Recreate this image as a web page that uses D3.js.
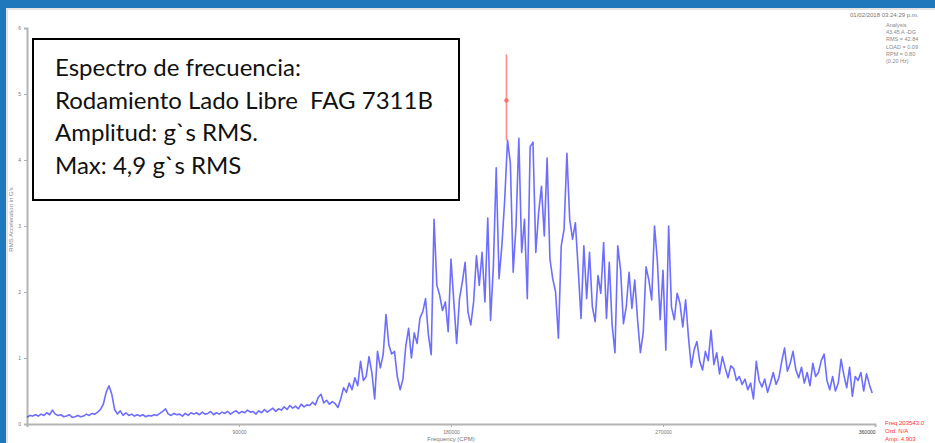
<!DOCTYPE html>
<html>
<head>
<meta charset="utf-8">
<script src="https://cdn.jsdelivr.net/npm/d3@7"></script>
<style>
    body { margin: 0; background: #ffffff; }
    svg { display: block; }
</style>
</head>
<body>
<script>
// spectrum amplitudes (g RMS), one value per 1200 CPM bin
var amplitudes = [
    0.10, 0.13, 0.12, 0.14, 0.12, 0.15, 0.13, 0.17, 0.14, 0.21,
    0.15, 0.13, 0.14, 0.11, 0.12, 0.14, 0.10, 0.11, 0.13, 0.11,
    0.12, 0.15, 0.13, 0.16, 0.15, 0.18, 0.22, 0.30, 0.48, 0.58,
    0.45, 0.22, 0.15, 0.20, 0.13, 0.17, 0.13, 0.15, 0.12, 0.14,
    0.12, 0.14, 0.11, 0.13, 0.12, 0.14, 0.13, 0.16, 0.19, 0.23,
    0.15, 0.13, 0.16, 0.14, 0.15, 0.12, 0.16, 0.13, 0.17, 0.15,
    0.17, 0.14, 0.18, 0.15, 0.16, 0.19, 0.14, 0.17, 0.15, 0.18,
    0.16, 0.19, 0.15, 0.18, 0.20, 0.16, 0.19, 0.17, 0.21, 0.18,
    0.19, 0.15, 0.20, 0.17, 0.22, 0.18, 0.21, 0.24, 0.19, 0.23,
    0.21, 0.26, 0.22, 0.28, 0.24, 0.27, 0.23, 0.30, 0.26, 0.29,
    0.28, 0.33, 0.29, 0.40, 0.45, 0.32, 0.36, 0.30, 0.34, 0.31,
    0.25, 0.38, 0.55, 0.48, 0.62, 0.52, 0.70, 0.58, 0.95, 0.66,
    0.72, 1.02, 0.78, 0.38, 1.10, 0.85, 1.05, 1.66, 1.20, 1.06,
    1.10, 0.72, 0.52, 0.68, 1.18, 1.45, 1.00, 1.38, 1.22, 1.60,
    1.70, 1.90, 1.35, 1.05, 3.10, 2.10, 1.95, 1.72, 1.85, 1.40,
    2.50, 1.85, 1.22, 1.90, 2.15, 2.45, 1.70, 1.50, 1.85, 2.55,
    2.10, 2.60, 1.85, 3.12, 1.57, 2.40, 3.88, 2.20, 2.70, 3.40,
    4.30, 3.95, 2.30, 3.00, 4.33, 2.60, 3.10, 1.90, 4.20, 4.27,
    2.60, 3.20, 3.60, 2.85, 4.03, 2.50, 2.20, 2.00, 1.30, 2.70,
    2.95, 4.10, 3.10, 2.80, 3.05, 2.35, 1.60, 2.70, 1.90, 2.60,
    1.78, 1.55, 2.25, 1.98, 2.75, 1.60, 2.45, 1.50, 1.08, 2.70,
    2.33, 1.52, 1.78, 2.30, 1.75, 2.18, 1.58, 1.08, 1.38, 2.38,
    2.18, 1.88, 3.00, 2.48, 1.58, 2.33, 1.12, 3.00, 1.77, 1.58,
    1.98, 1.83, 1.47, 1.88, 1.32, 0.86, 1.12, 1.25, 0.95, 0.82,
    1.10, 0.96, 1.42, 0.90, 1.08, 0.76, 1.02, 0.85, 0.70, 0.88,
    0.84, 0.66, 0.72, 0.60, 0.68, 0.52, 0.62, 0.38, 0.95, 0.66,
    0.56, 0.68, 0.48, 0.62, 0.78, 0.60, 0.70, 0.95, 1.15, 0.80,
    0.92, 1.10, 0.82, 0.70, 0.86, 0.62, 0.78, 0.58, 0.92, 0.72,
    0.78, 0.96, 1.06, 0.66, 0.52, 0.72, 0.50, 0.62, 0.98, 0.74,
    0.55, 0.86, 0.42, 0.72, 0.66, 0.78, 0.50, 0.76, 0.60, 0.47
];
var binCPM = 1200;

var xTicks = [0, 90000, 180000, 270000, 360000];
var yTicks = [0, 1, 2, 3, 4, 5, 6];

// cursor (red marker): frequency, amplitude, drawn span of the line
var cursorFreq = 203543;
var cursorAmp = 4.903;
var cursorSpan = [4.3, 5.6];

var boxLines = [
    "Espectro de frecuencia:",
    "Rodamiento Lado Libre  FAG 7311B",
    "Amplitud: g`s RMS.",
    "Max: 4,9 g`s RMS"
];
var infoLines = ["Analysis", "43.45 A -DG", "RMS = 42.84", "LOAD = 0.09", "RPM = 0.80", "(0.20 Hz)"];
var cursorLines = ["Freq 203543.0", "Ord: N/A", "Amp: 4.903"];
var stamp = "01/02/2018 03:24:29 p.m.";

(function(){

    var w = 935;
    var h = 443;
    var svg = d3.select("body")
        .append("svg")
        .attr("width", w)
        .attr("height", h);

    var x = d3.scaleLinear().domain([0, 360000]).range([27, 875]);
    var y = d3.scaleLinear().domain([0, 6]).range([424, 28]);

    drawFrame();
    drawAxes();
    drawSpectrum();
    drawCursor();
    drawTexts();

    function drawFrame(){
        svg.append("rect").attr("x", 0).attr("y", 8).attr("width", w).attr("height", 2).attr("fill", "#e4e4e4");
        svg.append("rect").attr("x", 6).attr("y", 0).attr("width", 2).attr("height", h).attr("fill", "#e4e4e4");
        svg.append("rect").attr("x", 0).attr("y", 0).attr("width", w).attr("height", 8).attr("fill", "#1f78bb");
        svg.append("rect").attr("x", 0).attr("y", 0).attr("width", 6).attr("height", h).attr("fill", "#1f78bb");
    }

    function drawAxes(){
        var gx = svg.append("g")
            .attr("transform", "translate(0," + y(0) + ")")
            .call(d3.axisBottom(x).tickValues(xTicks).tickSize(3).tickPadding(3)
                .tickFormat(function(d) { return d === 0 ? "" : d; }));
        var gy = svg.append("g")
            .attr("transform", "translate(" + x(0) + ",0)")
            .call(d3.axisLeft(y).tickValues(yTicks).tickSize(3).tickPadding(3)
                .tickFormat(d3.format("d")));

        [gx, gy].forEach(function(g) {
            g.select(".domain").attr("stroke", "#b4b4b4").attr("stroke-width", 2);
            g.selectAll(".tick line").attr("stroke", "#b4b4b4");
            g.selectAll(".tick text").attr("fill", "#777").style("font-size", "5px")
                .style("font-family", "Liberation Sans, Arial, sans-serif");
        });
        gx.select(".tick:last-of-type text").attr("text-anchor", "end").attr("fill", "#333");

        svg.append("text")
            .attr("x", x(180000))
            .attr("y", 441)
            .attr("text-anchor", "middle")
            .attr("fill", "#777")
            .style("font-size", "6px")
            .style("font-family", "Liberation Sans, Arial, sans-serif")
            .text("Frequency (CPM)");

        svg.append("text")
            .attr("transform", "translate(13," + y(3.1) + ") rotate(-90)")
            .attr("text-anchor", "middle")
            .attr("fill", "#888")
            .style("font-size", "6px")
            .style("font-family", "Liberation Sans, Arial, sans-serif")
            .text("RMS Acceleration in G's");
    }

    function drawSpectrum(){
        var line = d3.line()
            .x(function(d, i) { return x(i * binCPM); })
            .y(function(d) { return y(d); });
        svg.append("path")
            .datum(amplitudes)
            .attr("d", line)
            .attr("fill", "none")
            .attr("stroke", "#3535ff")
            .attr("stroke-opacity", 0.72)
            .attr("stroke-width", 1.6)
            .attr("stroke-linejoin", "round");
    }

    function drawCursor(){
        svg.append("line")
            .attr("x1", x(cursorFreq)).attr("x2", x(cursorFreq))
            .attr("y1", y(cursorSpan[0])).attr("y2", y(cursorSpan[1]))
            .attr("stroke", "#ff5a5a")
            .attr("stroke-opacity", 0.7)
            .attr("stroke-width", 1.6);
        svg.append("circle")
            .attr("cx", x(cursorFreq))
            .attr("cy", y(cursorAmp))
            .attr("r", 2.2)
            .attr("fill", "#ff7070");
    }

    function drawTexts(){
        // annotation box
        svg.append("rect")
            .attr("x", 33).attr("y", 39)
            .attr("width", 426).attr("height", 161)
            .attr("fill", "#fff")
            .attr("stroke", "#000")
            .attr("stroke-width", 2);
        svg.selectAll("text.box")
            .data(boxLines)
            .enter()
            .append("text")
            .attr("class", "box")
            .attr("x", 55)
            .attr("y", function(d, i) { return 76 + i * 32.5; })
            .attr("fill", "#111")
            .style("font-size", "24px")
            .style("font-family", "Lato, 'Open Sans', sans-serif")
            .style("white-space", "pre")
            .text(function(d) { return d; });

        svg.append("text")
            .attr("x", 850).attr("y", 17)
            .attr("fill", "#777")
            .style("font-size", "6px")
            .style("font-family", "Liberation Sans, Arial, sans-serif")
            .text(stamp);

        svg.selectAll("text.info")
            .data(infoLines)
            .enter()
            .append("text")
            .attr("class", "info")
            .attr("x", 886)
            .attr("y", function(d, i) { return 27 + i * 7.2; })
            .attr("fill", "#888")
            .style("font-size", "5.5px")
            .style("font-family", "Liberation Sans, Arial, sans-serif")
            .text(function(d) { return d; });

        svg.selectAll("text.cur")
            .data(cursorLines)
            .enter()
            .append("text")
            .attr("class", "cur")
            .attr("x", 885)
            .attr("y", function(d, i) { return 425 + i * 7.8; })
            .attr("fill", "#ff3030")
            .style("font-size", "6px")
            .style("font-family", "Liberation Sans, Arial, sans-serif")
            .text(function(d) { return d; });
    }
}());
</script>
</body>
</html>
